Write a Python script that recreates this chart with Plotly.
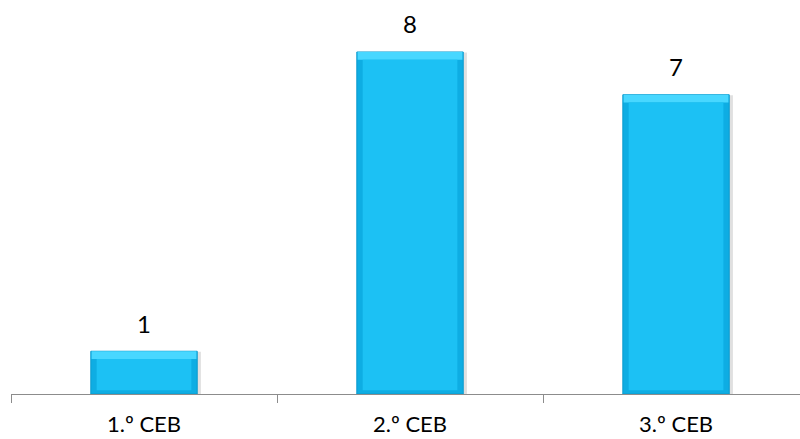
import plotly.graph_objects as go

# Number of entries per school cycle
categories = ["1.º CEB", "2.º CEB", "3.º CEB"]
values = [1, 8, 7]

BAR_W = 0.4          # bar width in category units
BEVEL_Y = 0.18       # bevel depth in value units
BEVEL_X = 0.022      # bevel depth in category units
FONT = "Lato"

fig = go.Figure()

# soft drop shadow behind each bar
fig.add_trace(go.Bar(
    x=categories, y=[v + 0.05 for v in values], base=-0.06,
    width=BAR_W + 0.012, offset=-BAR_W / 2 + 0.002,
    marker=dict(color="rgba(0,0,0,0.12)", line_width=0),
    hoverinfo="skip", showlegend=False,
))

# outer body (darker edges of the bevel)
fig.add_trace(go.Bar(
    x=categories, y=values, width=BAR_W,
    marker=dict(color="#0EADE3", line=dict(color="#0A9ACD", width=1)),
    hoverinfo="skip", showlegend=False,
))

# bright top bevel
fig.add_trace(go.Bar(
    x=categories, y=[BEVEL_Y] * len(values), base=[v - BEVEL_Y for v in values],
    width=BAR_W - 0.006,
    marker=dict(color="#48D7FF", line_width=0),
    hoverinfo="skip", showlegend=False,
))

# main face of the bar
fig.add_trace(go.Bar(
    x=categories, y=[v - BEVEL_Y - 0.09 for v in values], base=0.09,
    width=BAR_W - 2 * BEVEL_X,
    marker=dict(color="#1CC1F4", line_width=0),
    hovertemplate="%{x}<extra></extra>", showlegend=False,
))

# value labels above bars
for c, v in zip(categories, values):
    fig.add_annotation(
        x=c, y=v, text=str(v), showarrow=False,
        yanchor="middle", yshift=28,
        font=dict(family=FONT, size=24, color="#000000"),
    )

fig.update_layout(
    width=800, height=439,
    margin=dict(l=11, r=0, t=0, b=45),
    paper_bgcolor="white", plot_bgcolor="white",
    barmode="overlay",
    xaxis=dict(
        type="category", range=[-0.5, 2.466],
        showline=True, linecolor="#8C8C8C", linewidth=1,
        ticks="outside", ticklen=8, tickcolor="#8C8C8C", tickwidth=1,
        tickson="boundaries", showgrid=False, zeroline=False,
        ticklabelstandoff=11,
        tickfont=dict(family=FONT, size=22, color="#000000"),
        automargin=False,
    ),
    yaxis=dict(
        range=[0, 9.216], visible=False, showgrid=False, zeroline=False,
        automargin=False,
    ),
)

fig.write_html("out.html")
